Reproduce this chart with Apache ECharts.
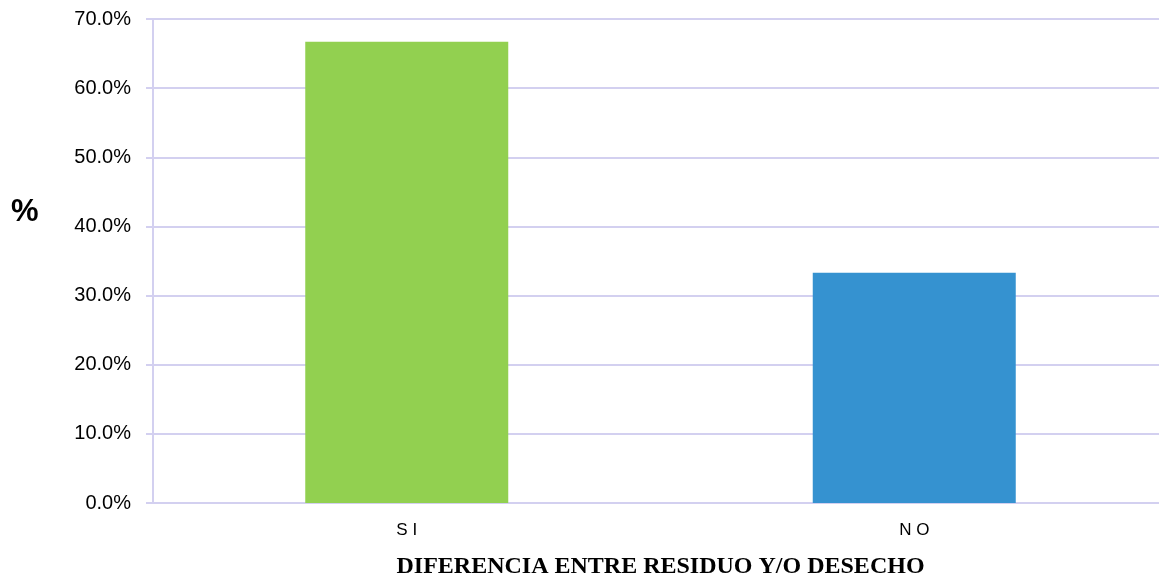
<!DOCTYPE html>
<html><head><meta charset="utf-8">
<script src="https://cdn.jsdelivr.net/npm/echarts@6/dist/echarts.min.js"></script>
<style>html,body{margin:0;padding:0;background:#fff}#c{width:1159px;height:579px}</style>
</head><body><div id="c"></div>
<script>
const categories = ['S I', 'N O'];
const values = [66.7, 33.3];
const barColors = ['#92d050', '#3592d0'];
const yTicks = [0, 10, 20, 30, 40, 50, 60, 70];

const chart = echarts.init(document.getElementById('c'), null, {renderer: 'canvas'});
const lav = '#d3d0f0';
chart.setOption({
  animation: false,
  grid: {left: 153, right: -9, top: 19, bottom: 76, containLabel: false, outerBoundsMode: 'none'},
  graphic: [{
    type: 'text', left: 11, top: 197,
    style: {text: '%', fill: '#000', font: 'bold 31px "Liberation Sans"'}
  }],
  xAxis: {
    type: 'category', data: categories,
    axisLine: {show: true, lineStyle: {color: lav, width: 2}},
    axisTick: {show: false},
    axisLabel: {color: '#000', fontFamily: 'Liberation Sans', fontSize: 17, margin: 19},
    name: 'DIFERENCIA ENTRE RESIDUO Y/O DESECHO',
    nameLocation: 'middle', nameGap: 52,
    nameTextStyle: {color: '#000', fontFamily: 'Liberation Serif', fontWeight: 'bold', fontSize: 24}
  },
  yAxis: {
    type: 'value', min: yTicks[0], max: yTicks[yTicks.length - 1], interval: 10,
    axisLine: {show: true, lineStyle: {color: lav, width: 2}},
    axisTick: {show: true, length: 7, lineStyle: {color: lav, width: 2}},
    splitLine: {show: true, lineStyle: {color: lav, width: 2}},
    axisLabel: {color: '#000', fontFamily: 'Liberation Sans', fontSize: 20, margin: 22,
      formatter: v => v.toFixed(1) + '%'}
  },
  series: [{
    type: 'bar', barWidth: '40%',
    data: values.map((v, i) => ({value: v, itemStyle: {color: barColors[i]}}))
  }]
});
</script></body></html>
